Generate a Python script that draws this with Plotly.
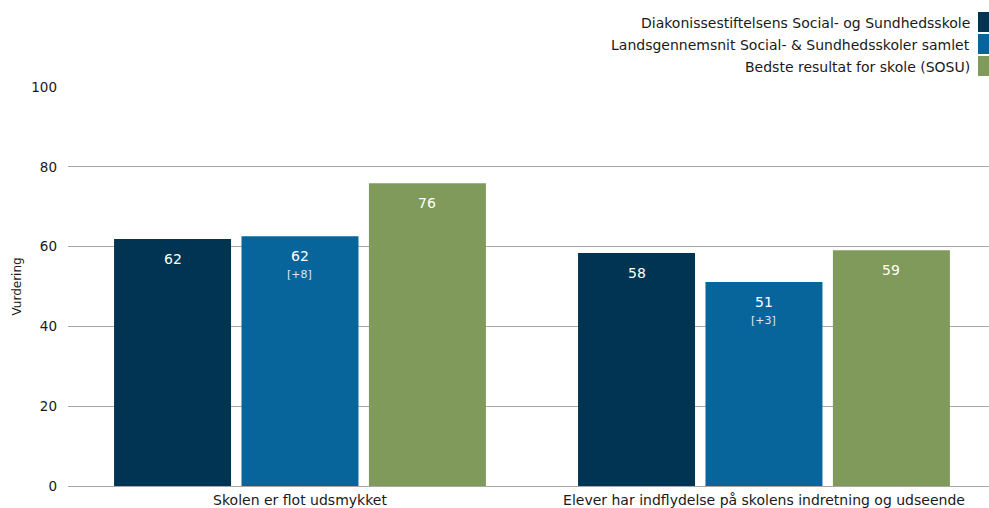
import plotly.graph_objects as go

categories = ["Skolen er flot udsmykket", "Elever har indflydelse på skolens indretning og udseende"]
series_names = [
    "Diakonissestiftelsens Social- og Sundhedsskole",
    "Landsgennemsnit Social- & Sundhedsskoler samlet",
    "Bedste resultat for skole (SOSU)",
]
values_school = [61.9, 58.4]
values_national = [62.6, 51.1]
values_best = [75.9, 59.1]
labels_school = ["62", "58"]
labels_national = ["62", "51"]
sub_national = ["[+8]", "[+3]"]
labels_best = ["76", "59"]
colors = ["#003452", "#07659B", "#7F9A5A"]

FONT = "DejaVu Sans"
W, H = 989, 508
ML, MR, MT, MB = 68, 0, 87, 22
PW, PH = W - ML - MR, H - MT - MB

fig = go.Figure()
all_vals = [values_school, values_national, values_best]
for name, vals, col in zip(series_names, all_vals, colors):
    fig.add_trace(go.Bar(x=categories, y=vals, name=name, marker_color=col,
                         marker_line_width=0, showlegend=False, hoverinfo="skip"))

bargap = 0.176
bargroupgap = 0.082
slot = (1 - bargap) / 3
offsets = [-slot, 0, slot]
main_labels = [labels_school, labels_national, labels_best]
subs = [None, sub_national, None]
for si in range(3):
    for ci in range(len(categories)):
        v = all_vals[si][ci]
        fig.add_annotation(x=ci + offsets[si], y=v, xref="x", yref="y",
                           text=main_labels[si][ci], showarrow=False,
                           yanchor="top", yshift=-10,
                           font=dict(family=FONT, size=14, color="white"))
        if subs[si] is not None:
            fig.add_annotation(x=ci + offsets[si], y=v, xref="x", yref="y",
                               text=subs[si][ci], showarrow=False,
                               yanchor="top", yshift=-30,
                               font=dict(family=FONT, size=11, color="#dfe8f0"))


def px_x(px):
    return (px - ML) / PW


def px_y(py):
    return 1 - (py - MT) / PH


# custom legend: text right-aligned, swatch on right
leg_y = [22, 44, 66]
for name, col, yy in zip(series_names, colors, leg_y):
    fig.add_annotation(x=px_x(972), y=px_y(yy + 1), xref="paper", yref="paper",
                       xanchor="right", yanchor="middle", text=name, showarrow=False,
                       font=dict(family=FONT, size=14, color="#1a1a1a"))
    fig.add_shape(type="rect", xref="paper", yref="paper",
                  x0=px_x(978), x1=px_x(990), y0=px_y(yy + 10), y1=px_y(yy - 10),
                  fillcolor=col, line=dict(width=0), layer="above")

fig.update_layout(
    width=W, height=H,
    margin=dict(l=ML, r=MR, t=MT, b=MB),
    barmode="group", bargap=bargap, bargroupgap=bargroupgap,
    plot_bgcolor="white", paper_bgcolor="white",
    font=dict(family=FONT, size=14, color="#1a1a1a"),
    xaxis=dict(range=[-0.5, 1.485], showgrid=False, ticks="", showline=False,
               ticklabelstandoff=4,
               tickfont=dict(size=14, color="#1a1a1a")),
    yaxis=dict(range=[0, 100], dtick=20, showgrid=True, gridcolor="#a6a6a6",
               gridwidth=1, zeroline=True, zerolinecolor="#a6a6a6", zerolinewidth=1,
               ticks="", ticklabelstandoff=10,
               title=dict(text="Vurdering", standoff=7, font=dict(size=12)),
               tickfont=dict(size=13.5, color="#1a1a1a")),
)

fig.write_html("out.html", config={"displayModeBar": False},
               post_script="document.body.style.margin='0px';document.body.style.overflow='hidden';")
